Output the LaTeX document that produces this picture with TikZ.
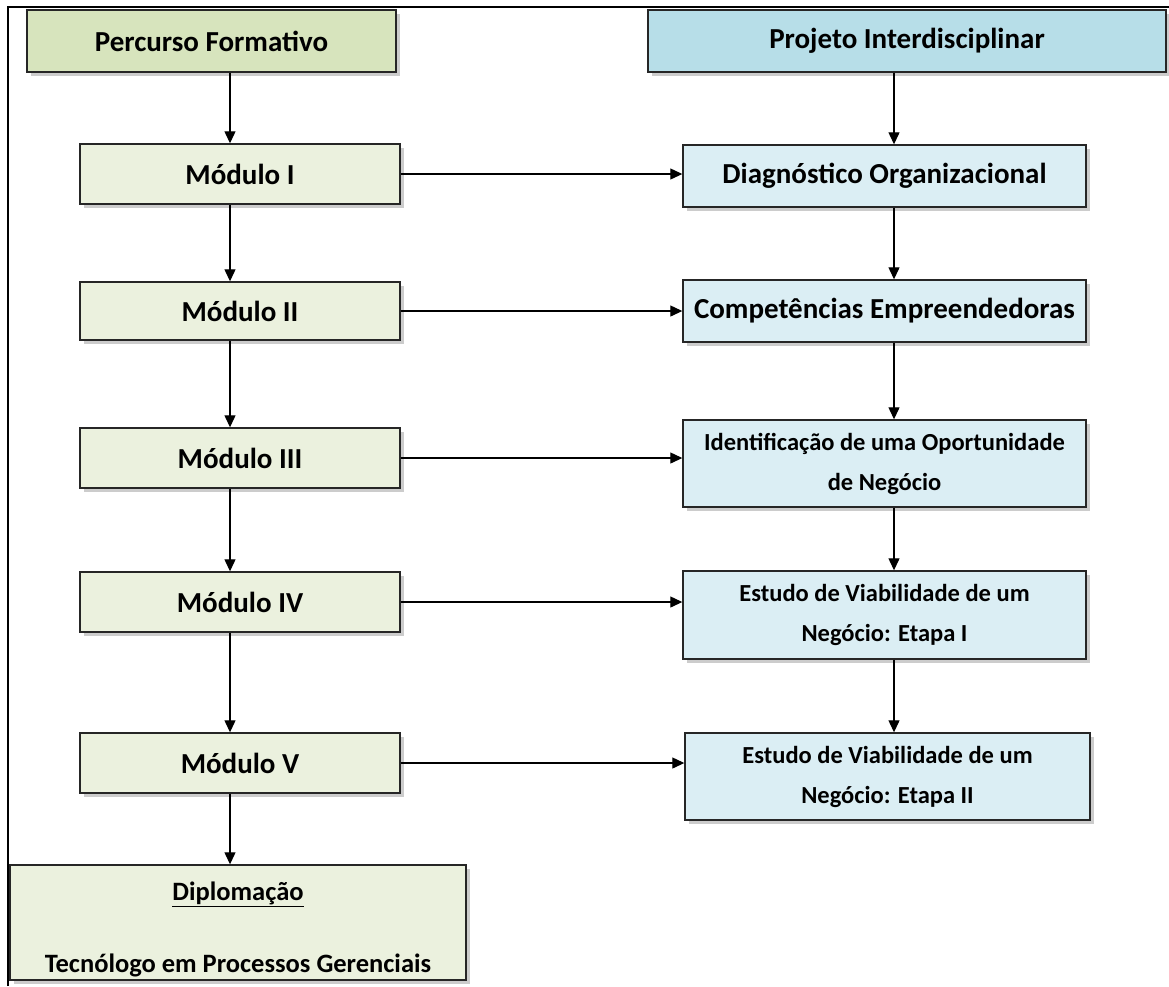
\documentclass[tikz,border=0pt]{standalone}
\usepackage{fontspec}
\setmainfont{Carlito}
\usepackage{tikz}
\usetikzlibrary{arrows.meta}
\usetikzlibrary{shadows}

\definecolor{headgreen}{HTML}{D7E4BD}
\definecolor{modgreen}{HTML}{EBF1DE}
\definecolor{headblue}{HTML}{B7DEE8}
\definecolor{projblue}{HTML}{DBEEF4}

\tikzset{
    box/.style = {draw = black!85, line width = 1.4pt, align = center,
        font = \fontsize{29}{40}\selectfont\bfseries, inner sep = 0pt,
        drop shadow = {shadow xshift = 4pt, shadow yshift = -4pt, fill = black!40}},
    modbox/.style = {box, fill = modgreen, minimum width = 320pt, minimum height = 60pt},
    projbox/.style = {box, fill = projblue, minimum width = 403pt},
    twoline/.style = {font = \fontsize{24.5}{40}\selectfont\bfseries},
    arr/.style = {line width = 1.2pt, -{Triangle[length = 12pt, width = 11pt]}}
}

\begin{document}
\begin{tikzpicture}[x = 1pt, y = -1pt]
    \useasboundingbox (0, 0) rectangle (1169, 986);
    \draw[line width = 2pt] (8, 986) -- (8, 7) -- (1169, 7);

    %% column heads
    \node[box, fill = headgreen, minimum width = 369pt, minimum height = 62pt]
        (pf) at (211.5, 41) {Percurso Formativo};
    \node[box, fill = headblue, minimum width = 518pt, minimum height = 62pt]
        (pi) at (907, 41) {Projeto Interdisciplinar};

    %% modules
    \node[modbox] (m1) at (240, 174) {Módulo I};
    \node[modbox, minimum height = 58pt] (m2) at (240, 311) {Módulo II};
    \node[modbox] (m3) at (240, 458) {Módulo III};
    \node[modbox] (m4) at (240, 602) {Módulo IV};
    \node[modbox] (m5) at (240, 763) {Módulo V};
    \node[box, fill = modgreen, minimum width = 456pt, minimum height = 115pt,
        font = \fontsize{26.5}{36}\selectfont\bfseries]
        (dip) at (238, 922.5)
        {\rule{0pt}{32pt}\underline{Diplomação}\\[36pt]Tecnólogo em Processos Gerenciais};

    %% project stages
    \node[projbox, minimum height = 62pt] (d1) at (884.5, 176) {Diagnóstico Organizacional};
    \node[projbox, minimum height = 62pt] (d2) at (884.5, 311) {Competências Empreendedoras};
    \node[projbox, twoline, minimum height = 87pt] (d3) at (884.5, 463.5)
        {Identificação de uma Oportunidade\\de Negócio};
    \node[projbox, twoline, minimum height = 88pt] (d4) at (884.5, 615)
        {Estudo de Viabilidade de um\\Negócio: Etapa I};
    \node[projbox, twoline, minimum width = 405pt, minimum height = 87pt] (d5) at (887.5, 776.5)
        {Estudo de Viabilidade de um\\Negócio: Etapa II};

    %% arrow columns
    \coordinate (lx) at (230, 0);
    \coordinate (rx) at (894, 0);

    \draw[arr] (pf.south -| lx) -- (m1.north -| lx);
    \draw[arr] (m1.south -| lx) -- (m2.north -| lx);
    \draw[arr] (m2.south -| lx) -- (m3.north -| lx);
    \draw[arr] (m3.south -| lx) -- (m4.north -| lx);
    \draw[arr] (m4.south -| lx) -- (m5.north -| lx);
    \draw[arr] (m5.south -| lx) -- (dip.north -| lx);

    \draw[arr] (pi.south -| rx) -- (d1.north -| rx);
    \draw[arr] (d1.south -| rx) -- (d2.north -| rx);
    \draw[arr] (d2.south -| rx) -- (d3.north -| rx);
    \draw[arr] (d3.south -| rx) -- (d4.north -| rx);
    \draw[arr] (d4.south -| rx) -- (d5.north -| rx);

    \draw[arr] (m1.east) -- (m1.east -| d1.west);
    \draw[arr] (m2.east) -- (m2.east -| d2.west);
    \draw[arr] (m3.east) -- (m3.east -| d3.west);
    \draw[arr] (m4.east) -- (m4.east -| d4.west);
    \draw[arr] (m5.east) -- (m5.east -| d5.west);
\end{tikzpicture}
\end{document}
